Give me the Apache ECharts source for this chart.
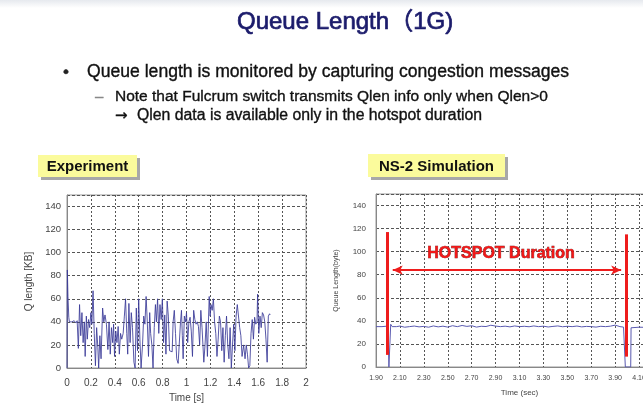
<!DOCTYPE html>
<html>
<head>
<meta charset="utf-8">
<script src="https://cdn.jsdelivr.net/npm/echarts@6/dist/echarts.min.js"></script>
<style>
  html, body { margin: 0; padding: 0; background: #fff; }
  #QueueLength { width: 643px; height: 405px; }
</style>
</head>
<body>
<div id="QueueLength"></div>
<script>
// experiment trace (left)
var expTime = [0, 0.003, 0.008, 0.015, 0.02, 0.04, 0.05, 0.06, 0.075, 0.085, 0.095, 0.105, 0.115, 0.125, 0.135, 0.145, 0.152, 0.162, 0.17, 0.18,
  0.19, 0.2, 0.208, 0.218, 0.228, 0.238, 0.248, 0.258, 0.265, 0.275, 0.285, 0.298, 0.308, 0.318, 0.33, 0.342, 0.352, 0.362, 0.372, 0.382,
  0.39, 0.398, 0.408, 0.418, 0.428, 0.438, 0.448, 0.458, 0.47, 0.48, 0.49, 0.5, 0.508, 0.518, 0.528, 0.538, 0.548, 0.56, 0.57, 0.58,
  0.59, 0.6, 0.61, 0.62, 0.632, 0.642, 0.652, 0.662, 0.672, 0.682, 0.692, 0.7, 0.71, 0.72, 0.73, 0.74, 0.748, 0.758, 0.768, 0.778,
  0.788, 0.798, 0.808, 0.818, 0.828, 0.838, 0.848, 0.858, 0.868, 0.88, 0.888, 0.898, 0.908, 0.918, 0.93, 0.94, 0.95, 0.958, 0.965, 0.972,
  0.982, 0.992, 1.0, 1.01, 1.02, 1.03, 1.04, 1.05, 1.06, 1.07, 1.08, 1.09, 1.1, 1.11, 1.12, 1.13, 1.145, 1.155, 1.165, 1.175,
  1.19, 1.198, 1.205, 1.215, 1.225, 1.235, 1.245, 1.255, 1.265, 1.275, 1.285, 1.295, 1.305, 1.315, 1.325, 1.335, 1.345, 1.355, 1.365, 1.375,
  1.385, 1.395, 1.405, 1.415, 1.425, 1.435, 1.445, 1.455, 1.465, 1.478, 1.49, 1.5, 1.51, 1.52, 1.53, 1.54, 1.55, 1.56, 1.57, 1.58,
  1.59, 1.595, 1.605, 1.615, 1.625, 1.635, 1.645, 1.655, 1.665, 1.675, 1.685, 1.695, 1.7]
var expQlen = [0, 85, 62, 44, 40, 40, 39, 41, 39, 41, 17, 55, 28, 48, 22, 40, 10, 45, 25, 42,
  35, 48, 38, 67, 30, 2, 35, 18, 0, 28, 8, 52, 40, 46, 38, 16, 40, 12, 35, 22,
  38, 10, 32, 22, 36, 12, 30, 25, 30, 45, 60, 30, 12, 56, 22, 48, 35, 5, 0, 52,
  15, 60, 25, 0, 20, 45, 38, 62, 40, 10, 48, 30, 20, 0, 35, 55, 40, 60, 30, 55,
  42, 60, 22, 46, 12, 58, 45, 15, 14, 14, 40, 50, 30, 8, 4, 4, 40, 50, 28, 8,
  45, 40, 48, 22, 40, 44, 32, 10, 50, 42, 38, 40, 36, 20, 50, 35, 5, 20, 40, 10,
  62, 45, 55, 50, 60, 40, 30, 10, 25, 45, 40, 15, 35, 5, 28, 45, 20, 8, 35, 0,
  20, 38, 15, 45, 55, 54, 35, 28, 10, 20, 8, 20, 12, 0, 2, 30, 42, 25, 44, 38,
  40, 64, 30, 45, 35, 48, 46, 40, 25, 5, 45, 47, 46]

// ns-2 trace (right)
var simTime = [1.9, 1.95, 2.0, 2.006, 2.008, 2.02, 2.023, 2.035, 2.07, 2.1, 2.14, 2.18, 2.22, 2.26, 2.3, 2.34, 2.38, 2.42, 2.46, 2.5,
  2.54, 2.58, 2.62, 2.66, 2.7, 2.74, 2.78, 2.82, 2.86, 2.9, 2.94, 2.98, 3.02, 3.06, 3.1, 3.14, 3.18, 3.22, 3.26, 3.3,
  3.34, 3.38, 3.42, 3.46, 3.5, 3.54, 3.58, 3.62, 3.66, 3.7, 3.74, 3.78, 3.82, 3.86, 3.9, 3.94, 3.97, 3.982, 3.985, 4.03,
  4.033, 4.1, 4.2, 4.3]
var simQlen = [35, 35, 35.5, 35, 0, 0, 37, 35, 35, 35.5, 34.5, 35, 35.5, 34.8, 35.2, 34.5, 35.6, 34.8, 35.4, 34.6,
  35.8, 35, 36, 35.2, 35.8, 34.6, 35.3, 35.1, 36.2, 35.5, 35, 35.4, 34.8, 35.6, 35, 35.3, 34.9, 35.6, 35, 35.4,
  34.7, 35.2, 35.6, 34.9, 35.3, 35, 35.5, 34.8, 35.2, 35, 34.6, 35.3, 35, 35.4, 36.3, 35, 34.6, 35, 0, 0,
  34, 34.5, 34.3, 34.5]

// hotspot markers on the simulation panel
var hotspotStart = 1.99
var hotspotEnd = 3.99
var arrowFrom = 2.04
var arrowTo = 3.95
var arrowLevel = 84

var yTicks = { min: 0, max: 150, interval: 20 }

function pairs (xs, ys) {
  return xs.map(function (x, i) { return [x, ys[i]] })
}

var font = 'Liberation Sans, Arial, Noto Sans CJK KR, sans-serif'
var gridLine = function (dash) {
  return { show: true, lineStyle: { color: '#555', width: 1, type: dash } }
}

function box (x, y, w, h, label) {
  return [
    { type: 'rect', shape: { x: x + 3, y: y + 3, width: w, height: h }, style: { fill: '#a8a8a8' } },
    { type: 'rect', shape: { x: x, y: y, width: w, height: h }, style: { fill: '#fbfb9c' } },
    {
      type: 'text', x: x + w / 2, y: y + h / 2 + 1,
      style: { text: label, fill: '#111', font: 'bold 15px ' + font, align: 'center', verticalAlign: 'middle' }
    }
  ]
}

function line (x, y, size, text, color, family) {
  return {
    type: 'text', x: x, y: y,
    style: { text: text, fill: color, font: size + 'px ' + (family || font), verticalAlign: 'middle', stroke: color, lineWidth: 0.35 }
  }
}

var graphics = [
  {
    type: 'rect', shape: { x: 0, y: 0, width: 643, height: 8 },
    style: { fill: new echarts.graphic.LinearGradient(0, 0, 0, 1, [{ offset: 0, color: '#e6e9ee' }, { offset: 1, color: '#ffffff' }]) }
  },
  {
    type: 'text', x: 237, y: 22,
    style: { text: 'Queue Length（1G)', fill: '#1b1b6b', font: '24px ' + font, verticalAlign: 'middle', stroke: '#1b1b6b', lineWidth: 0.7 }
  },
  line(63, 72, 17, '•', '#222'),
  line(87, 72, 17.6, 'Queue length is monitored by capturing congestion messages', '#111'),
  line(95, 97, 15, '–', '#888'),
  line(115, 97, 15.5, 'Note that Fulcrum switch transmits Qlen info only when Qlen>0', '#111'),
  line(115, 116, 15, '→', '#111', 'DejaVu Sans'),
  line(137, 116, 15.8, 'Qlen data is available only in the hotspot duration', '#111')
].concat(box(38, 155, 99, 22, 'Experiment'), box(368, 154, 137, 23, 'NS-2 Simulation'))

var option = {
  animation: false,
  backgroundColor: '#fff',
  graphic: graphics,
  grid: [
    { left: 67, top: 195, width: 239, height: 173, show: true, borderColor: '#999', borderWidth: 1, outerBoundsMode: 'none' },
    { left: 376, top: 194, width: 287, height: 173, show: true, borderColor: '#999', borderWidth: 1, outerBoundsMode: 'none' }
  ],
  xAxis: [
    {
      gridIndex: 0, type: 'value', min: 0, max: 2, interval: 0.2,
      name: 'Time [s]', nameLocation: 'middle', nameGap: 25,
      nameTextStyle: { fontFamily: font, fontSize: 10, color: '#444' },
      axisLine: { lineStyle: { color: '#888' } },
      axisTick: { show: false },
      axisLabel: { fontFamily: font, fontSize: 10, color: '#444', margin: 10 },
      splitLine: gridLine([2, 2])
    },
    {
      gridIndex: 1, type: 'value', min: 1.9, max: 4.3, interval: 0.2,
      name: 'Time (sec)', nameLocation: 'middle', nameGap: 22,
      nameTextStyle: { fontFamily: font, fontSize: 8, color: '#444' },
      axisLine: { lineStyle: { color: '#888' } },
      axisTick: { show: false },
      axisLabel: { fontFamily: font, fontSize: 7, color: '#444', margin: 8, formatter: function (v) { return v.toFixed(2) } },
      splitLine: gridLine([2, 2])
    }
  ],
  yAxis: [
    {
      gridIndex: 0, type: 'value', min: yTicks.min, max: yTicks.max, interval: yTicks.interval,
      name: 'Q length [KB]', nameLocation: 'middle', nameGap: 33,
      nameTextStyle: { fontFamily: font, fontSize: 10, color: '#444' },
      axisLine: { show: true, lineStyle: { color: '#888' } },
      axisTick: { show: false },
      axisLabel: { fontFamily: font, fontSize: 9.5, color: '#444', margin: 6, showMaxLabel: false },
      splitLine: gridLine([3, 2])
    },
    {
      gridIndex: 1, type: 'value', min: yTicks.min, max: yTicks.max, interval: yTicks.interval,
      name: 'Queue Length(byte)', nameLocation: 'middle', nameGap: 36,
      nameTextStyle: { fontFamily: font, fontSize: 7, color: '#444' },
      axisLine: { show: true, lineStyle: { color: '#888' } },
      axisTick: { show: false },
      axisLabel: { fontFamily: font, fontSize: 8, color: '#444', margin: 10, showMaxLabel: false },
      splitLine: gridLine([3, 2])
    }
  ],
  series: [
    {
      name: 'Experiment',
      type: 'line', xAxisIndex: 0, yAxisIndex: 0,
      data: pairs(expTime, expQlen),
      showSymbol: false,
      lineStyle: { color: '#3a3a98', width: 1, opacity: 0.85 }
    },
    {
      name: 'NS-2 Simulation',
      type: 'line', xAxisIndex: 1, yAxisIndex: 1,
      data: pairs(simTime, simQlen),
      showSymbol: false,
      lineStyle: { color: '#5a5ab0', width: 1 },
      markLine: {
        silent: true,
        symbol: 'none',
        lineStyle: { color: '#ee1c1c', width: 3, type: 'solid' },
        label: { show: false },
        data: [
          [{ coord: [hotspotStart, 10.5] }, { coord: [hotspotStart, 117] }],
          [{ coord: [hotspotEnd, 9] }, { coord: [hotspotEnd, 115] }],
          [
            { coord: [arrowFrom, arrowLevel], symbol: 'arrow', symbolSize: [7, 10], lineStyle: { width: 2 } },
            { coord: [arrowTo, arrowLevel], symbol: 'arrow', symbolSize: [7, 10] }
          ]
        ]
      },
      markPoint: {
        silent: true,
        symbol: 'circle',
        symbolSize: 0,
        label: {
          show: true,
          formatter: 'HOTSPOT Duration',
          color: '#f01818',
          fontFamily: font,
          fontWeight: 'bold',
          fontSize: 16,
          textBorderColor: '#6a1010',
          textBorderWidth: 0.6
        },
        data: [{ coord: [2.946, 98] }]
      }
    }
  ]
}

var chart = echarts.init(document.getElementById('QueueLength'))
chart.setOption(option)
</script>
</body>
</html>
